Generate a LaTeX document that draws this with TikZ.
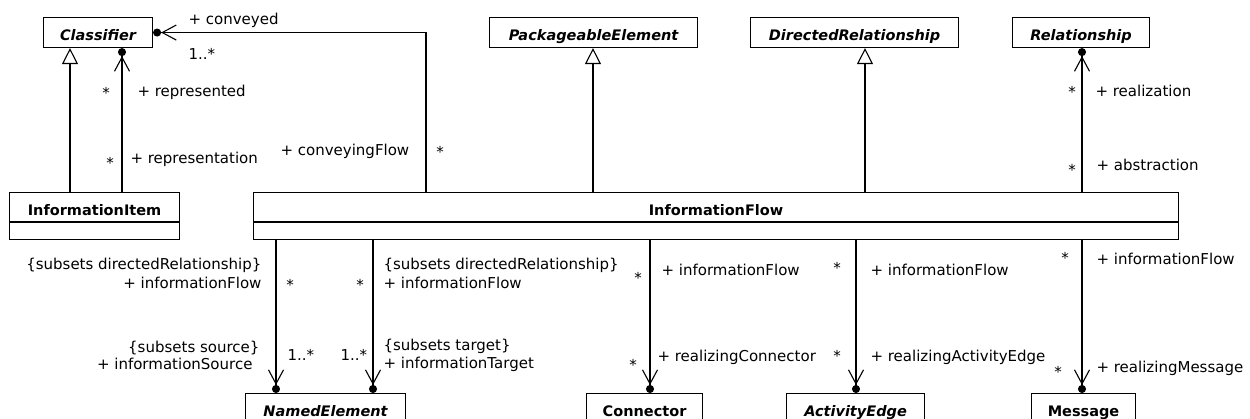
\documentclass[tikz,border=0pt]{standalone}
\usepackage{fontspec}
\setmainfont{DejaVu Sans}
\usetikzlibrary{arrows.meta}
\begin{document}
\begin{tikzpicture}[x=1pt,y=-1pt,line width=1.1pt,
  clsbox/.style={draw, line width=1.1pt, inner sep=0pt, minimum height=30pt,
    text height=16pt, text depth=0pt, anchor=north west,
    font=\fontsize{14.5}{17}\selectfont\bfseries},
  absbox/.style={clsbox, font=\fontsize{14.5}{17}\selectfont\bfseries\itshape},
  compbox/.style={draw, line width=1.1pt, inner sep=0pt, minimum height=17pt, anchor=north},
  lab/.style={inner sep=0pt, font=\fontsize{15}{18}\selectfont},
  gen/.style={-{Triangle[open, length=16pt, width=16pt]}},
  nav/.style={-{Straight Barb[length=14pt, width=15pt] Circle[length=8pt]}}]
\useasboundingbox (0,0) rectangle (1250,419);

% classes
\node[absbox, minimum width=109pt] (cls) at (43,17) {Classifier};
\node[absbox, minimum width=208pt] (pe) at (489,17) {PackageableElement};
\node[absbox, minimum width=208pt] (dr) at (750,17) {DirectedRelationship};
\node[absbox, minimum width=137pt] (rel) at (1012,17) {Relationship};
\node[clsbox, minimum width=170pt, minimum height=29pt] (ii) at (9,192) {InformationItem};
\node[compbox, minimum width=170pt] (iib) at (ii.south) {};
\node[clsbox, minimum width=925pt, minimum height=29pt] (if) at (253,192) {InformationFlow};
\node[compbox, minimum width=925pt] (ifb) at (if.south) {};
\node[absbox, minimum width=160pt] (ne) at (245,393) {NamedElement};
\node[clsbox, minimum width=116pt] (con) at (586,393) {Connector};
\node[absbox, minimum width=138pt] (ae) at (786,393) {ActivityEdge};
\node[clsbox, minimum width=104pt] (msg) at (1031,393) {Message};

% columns
\coordinate (g1) at (70,0);
\coordinate (a1) at (122,0);
\coordinate (cv) at (426,0);
\coordinate (g2) at (593,0);
\coordinate (g3) at (865,0);
\coordinate (rl) at (1082,0);
\coordinate (d1) at (276,0);
\coordinate (d2) at (373,0);
\coordinate (d3) at (650,0);
\coordinate (d4) at (856,0);
\coordinate (d5) at (1082,0);

% connectors
\draw[gen] (g1 |- ii.north) -- (g1 |- cls.south);
\draw[nav] (a1 |- ii.north) -- (a1 |- cls.south);
\draw[nav] (cv |- if.north) -- (cv |- cls.east) -- (cls.east);
\draw[gen] (g2 |- if.north) -- (g2 |- pe.south);
\draw[gen] (g3 |- if.north) -- (g3 |- dr.south);
\draw[nav] (rl |- if.north) -- (rl |- rel.south);
\draw[nav] (d1 |- ifb.south) -- (d1 |- ne.north);
\draw[nav] (d2 |- ifb.south) -- (d2 |- ne.north);
\draw[nav] (d3 |- ifb.south) -- (d3 |- con.north);
\draw[nav] (d4 |- ifb.south) -- (d4 |- ae.north);
\draw[nav] (d5 |- ifb.south) -- (d5 |- msg.north);

% labels
\node[lab, anchor=base west] (l1) at (188,24.5) {+ conveyed};
\node[lab, anchor=base west] (l2) at (188,60) {1..*};
\node[lab, anchor=base] (l3) at (106,98.6) {*};
\node[lab, anchor=base west] (l4) at (137,97) {+ represented};
\node[lab, anchor=base] (l5) at (110,168.6) {*};
\node[lab, anchor=base west] (l6) at (130,163.5) {+ representation};
\node[lab, anchor=base west] (l7) at (280,155.5) {+ conveyingFlow};
\node[lab, anchor=base] (l8) at (440,157.6) {*};

\node[lab, anchor=base east] (l9) at (262,270) {\{subsets directedRelationship\}};
\node[lab, anchor=base east] (l10) at (262,289) {+ informationFlow};
\node[lab, anchor=base] (l11) at (290,290.6) {*};
\node[lab, anchor=base] (l12) at (360,290.6) {*};
\node[lab, anchor=base west] (l13) at (383,270) {\{subsets directedRelationship\}};
\node[lab, anchor=base west] (l14) at (383,289) {+ informationFlow};
\node[lab, anchor=base east] (l15) at (260,353) {\{subsets source\}};
\node[lab, anchor=base east] (l16) at (253,370) {+ informationSource};
\node[lab, anchor=base west] (l17) at (287,361) {1..*};
\node[lab, anchor=base west] (l18) at (340,361) {1..*};
\node[lab, anchor=base west] (l19) at (383,351) {\{subsets target\}};
\node[lab, anchor=base west] (l20) at (383,369) {+ informationTarget};

\node[lab, anchor=base] (l21) at (638,283.6) {*};
\node[lab, anchor=base west] (l22) at (661,276) {+ informationFlow};
\node[lab, anchor=base] (l23) at (633,370.6) {*};
\node[lab, anchor=base west] (l24) at (657,362) {+ realizingConnector};

\node[lab, anchor=base] (l25) at (837,273.6) {*};
\node[lab, anchor=base west] (l26) at (870,276) {+ informationFlow};
\node[lab, anchor=base] (l27) at (837,361.6) {*};
\node[lab, anchor=base west] (l28) at (870,362) {+ realizingActivityEdge};

\node[lab, anchor=base] (l29) at (1065,263.6) {*};
\node[lab, anchor=base west] (l30) at (1096,265) {+ informationFlow};
\node[lab, anchor=base] (l31) at (1058,377.6) {*};
\node[lab, anchor=base west] (l32) at (1096,373) {+ realizingMessage};

\node[lab, anchor=base] (l33) at (1072,97.6) {*};
\node[lab, anchor=base west] (l34) at (1095,96.5) {+ realization};
\node[lab, anchor=base] (l35) at (1072,175.6) {*};
\node[lab, anchor=base west] (l36) at (1096,171) {+ abstraction};
\end{tikzpicture}
\end{document}
